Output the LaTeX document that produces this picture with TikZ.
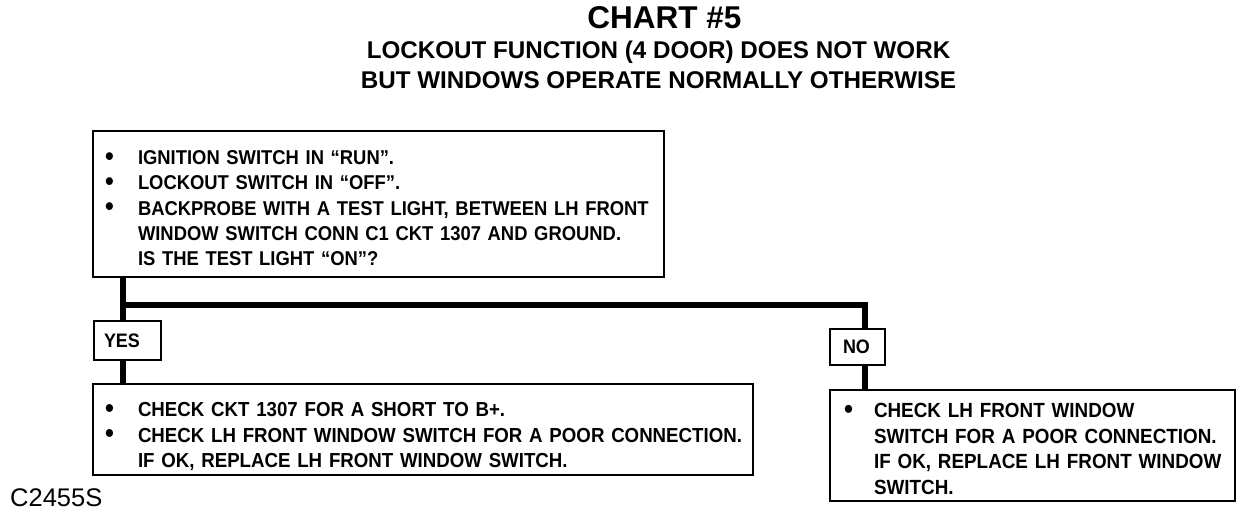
\documentclass[tikz,border=0pt]{standalone}
\usepackage{fontspec}
\setmainfont{Liberation Sans}
\newfontfamily\cnd{Liberation Sans}[FakeStretch=0.92]
\newcommand\bul[1]{\makebox[#1][l]{\raisebox{-0.5pt}{\scalebox{1.35}{\textbullet}}}}
\newcommand\bl[2]{\mbox{\bul{#1}#2}}
\newcommand\il[2]{\mbox{\hspace*{#1}#2}}
\tikzset{
  box/.style={draw, line width=2pt, anchor=north west, inner ysep=0pt, align=left},
  lbl/.style={draw, line width=2pt, anchor=north west, align=left, inner ysep=0pt,
              font=\cnd\bfseries\fontsize{19.5}{21}\selectfont},
  conn/.style={line width=6pt, line join=miter},
  ttl/.style={anchor=base, inner sep=0pt}
}
\begin{document}
\begin{tikzpicture}[x=1pt,y=-1pt]
\useasboundingbox[fill=white] (0,0) rectangle (1248,514);
% titles
\node[ttl, font=\bfseries\fontsize{31.5}{34}\selectfont] (t1) at (664.5,28) {CHART \#5};
\node[ttl, font=\bfseries\fontsize{24.2}{28}\selectfont] (t2) at (658.5,58) {LOCKOUT FUNCTION (4 DOOR) DOES NOT WORK};
\node[ttl, font=\bfseries\fontsize{24.2}{28}\selectfont] (t3) at (658.5,88) {BUT WINDOWS OPERATE NORMALLY OTHERWISE};
% question box
\node[box, inner xsep=12pt, text width=547pt, font=\cnd\bfseries\fontsize{20}{25.25}\selectfont] (q) at (92,130) {%
\bl{33pt}{\rule{0pt}{33.5pt}IGNITION SWITCH IN “RUN”.}\\
\bl{33pt}{LOCKOUT SWITCH IN “OFF”.}\\
\bl{33pt}{BACKPROBE WITH A TEST LIGHT, BETWEEN LH FRONT}\\
\il{33pt}{WINDOW SWITCH CONN C1 CKT 1307 AND GROUND.}\\
\il{33pt}{IS THE TEST LIGHT “ON”?\rule[-11.5pt]{0pt}{0pt}}};
% yes / no labels
\node[lbl, inner xsep=10pt, text width=47pt, minimum height=39pt] (yes) at (93,320) {YES};
\node[lbl, inner xsep=13pt, text width=29pt, minimum height=36pt] (no) at (829,328) {NO};
% answer boxes
\node[box, inner xsep=12pt, text width=636pt, font=\cnd\bfseries\fontsize{20.3}{25.5}\selectfont] (a1) at (92,383) {%
\bl{33pt}{\rule{0pt}{32.5pt}CHECK CKT 1307 FOR A SHORT TO B+.}\\
\bl{33pt}{CHECK LH FRONT WINDOW SWITCH FOR A POOR CONNECTION.}\\
\il{33pt}{IF OK, REPLACE LH FRONT WINDOW SWITCH.\rule[-7.5pt]{0pt}{0pt}}};
\node[box, inner xsep=14pt, text width=377pt, font=\cnd\bfseries\fontsize{20.5}{25.7}\selectfont] (a2) at (829,389) {%
\bl{30pt}{\rule{0pt}{27.5pt}CHECK LH FRONT WINDOW}\\
\il{30pt}{SWITCH FOR A POOR CONNECTION.}\\
\il{30pt}{IF OK, REPLACE LH FRONT WINDOW}\\
\il{30pt}{SWITCH.\rule[-6.5pt]{0pt}{0pt}}};
% connectors
\coordinate (tx) at (123,0);
\coordinate (nx) at (865,0);
\coordinate (hy) at (0,305);
\draw[conn] (q.south -| tx) -- (yes.north -| tx);
\draw[conn] (yes.south -| tx) -- (a1.north -| tx);
\draw[conn] (hy -| tx) -- (hy -| nx) -- (no.north -| nx);
\draw[conn] (no.south -| nx) -- (a2.north -| nx);
% figure code
\node[anchor=base west, inner sep=0pt, font=\fontsize{25.5}{28}\selectfont] (code) at (10,506) {C2455S};
\end{tikzpicture}
\end{document}
